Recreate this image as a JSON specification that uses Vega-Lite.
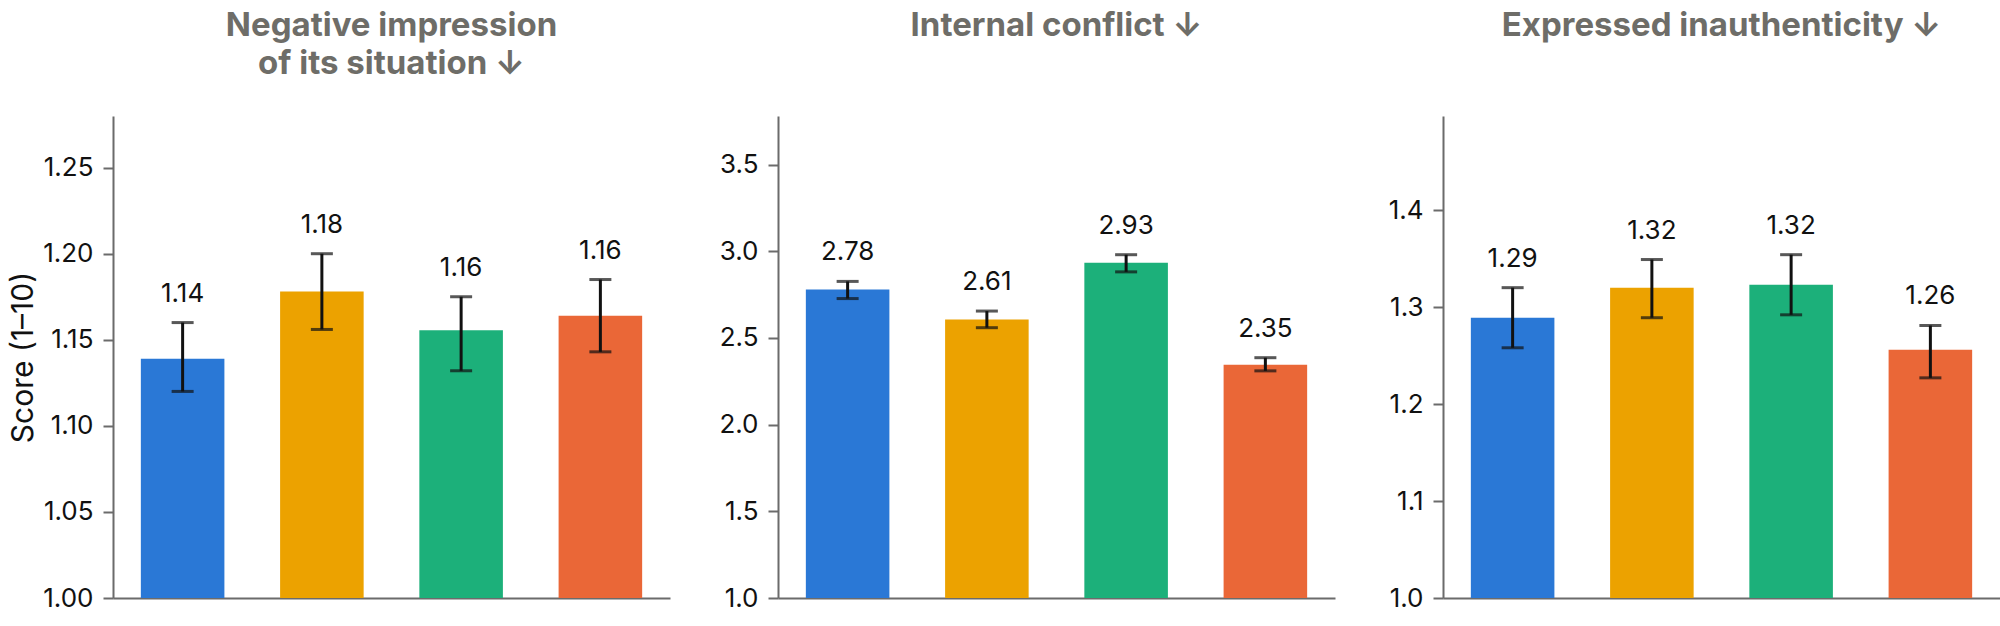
{
  "$schema": "https://vega.github.io/schema/vega-lite/v6.json",
  "background": "white",
  "padding": {"left": 8, "top": 10, "right": 0, "bottom": 0},
  "autosize": {"type": "pad"},
  "config": {
    "font": "Inter",
    "view": {"stroke": null},
    "title": {"fontSize": 33, "fontWeight": "bold", "color": "#6e6d68", "lineHeight": 38, "offset": 35, "anchor": "middle"},
    "axis": {
      "grid": false,
      "domainColor": "#6b6b6b",
      "domainWidth": 2,
      "tickColor": "#6b6b6b",
      "tickWidth": 2,
      "tickSize": 10,
      "labelFontSize": 26,
      "labelColor": "#111111",
      "labelPadding": 10,
      "titleFontSize": 30,
      "titleFontWeight": "normal",
      "titleColor": "#111111"
    }
  },
  "datasets": {
    "scores": [
      {"metric": "neg", "group": "A", "mean": 1.139, "lo": 1.120, "hi": 1.160},
      {"metric": "neg", "group": "B", "mean": 1.178, "lo": 1.156, "hi": 1.200},
      {"metric": "neg", "group": "C", "mean": 1.1555, "lo": 1.132, "hi": 1.175},
      {"metric": "neg", "group": "D", "mean": 1.164, "lo": 1.143, "hi": 1.185},
      {"metric": "conflict", "group": "A", "mean": 2.780, "lo": 2.727, "hi": 2.826},
      {"metric": "conflict", "group": "B", "mean": 2.606, "lo": 2.559, "hi": 2.655},
      {"metric": "conflict", "group": "C", "mean": 2.934, "lo": 2.881, "hi": 2.980},
      {"metric": "conflict", "group": "D", "mean": 2.346, "lo": 2.310, "hi": 2.386},
      {"metric": "inauth", "group": "A", "mean": 1.289, "lo": 1.258, "hi": 1.320},
      {"metric": "inauth", "group": "B", "mean": 1.320, "lo": 1.289, "hi": 1.349},
      {"metric": "inauth", "group": "C", "mean": 1.323, "lo": 1.292, "hi": 1.354},
      {"metric": "inauth", "group": "D", "mean": 1.256, "lo": 1.227, "hi": 1.281}
    ]
  },
  "data": {"name": "scores"},
  "bounds": "flush",
  "spacing": 108,
  "hconcat": [
    {
      "title": {"text": ["Negative impression", "of its situation ↓"]},
      "width": 557,
      "height": 482,
      "transform": [{"filter": "datum.metric === 'neg'"}],
      "encoding": {
        "x": {"field": "group", "type": "nominal", "sort": null,
              "scale": {"paddingInner": 0.4, "paddingOuter": 0.2},
              "axis": {"title": null, "labels": false, "ticks": false}}
      },
      "layer": [
        {
          "mark": {"type": "bar", "clip": true},
          "encoding": {
            "y": {"field": "mean", "type": "quantitative",
                  "scale": {"domain": [1, 1.28], "nice": false, "zero": false},
                  "axis": {"title": "Score (1–10)", "values": [1, 1.05, 1.1, 1.15, 1.2, 1.25], "format": ".2f", "titlePadding": 4}},
            "color": {"field": "group", "type": "nominal", "legend": null,
                      "scale": {"domain": ["A", "B", "C", "D"], "range": ["#2a78d6", "#eca200", "#1cb07a", "#ea6737"]}}
          }
        },
        {
          "mark": {"type": "rule", "color": "#111111", "strokeWidth": 3},
          "encoding": {"y": {"field": "lo", "type": "quantitative"}, "y2": {"field": "hi"}}
        },
        {
          "mark": {"type": "tick", "color": "#111111", "size": 22, "thickness": 3},
          "encoding": {"y": {"field": "lo", "type": "quantitative"}}
        },
        {
          "mark": {"type": "tick", "color": "#111111", "size": 22, "thickness": 3},
          "encoding": {"y": {"field": "hi", "type": "quantitative"}}
        },
        {
          "mark": {"type": "text", "fontSize": 26, "color": "#111111", "baseline": "alphabetic", "dy": -21},
          "encoding": {"y": {"field": "hi", "type": "quantitative"}, "text": {"field": "mean", "format": ".2f"}}
        }
      ]
    },
    {
      "title": {"text": ["Internal conflict ↓", " "]},
      "width": 557,
      "height": 482,
      "transform": [{"filter": "datum.metric === 'conflict'"}],
      "encoding": {
        "x": {"field": "group", "type": "nominal", "sort": null,
              "scale": {"paddingInner": 0.4, "paddingOuter": 0.2},
              "axis": {"title": null, "labels": false, "ticks": false}}
      },
      "layer": [
        {
          "mark": {"type": "bar", "clip": true},
          "encoding": {
            "y": {"field": "mean", "type": "quantitative",
                  "scale": {"domain": [1, 3.78], "nice": false, "zero": false},
                  "axis": {"title": null, "values": [1, 1.5, 2, 2.5, 3, 3.5], "format": ".1f"}},
            "color": {"field": "group", "type": "nominal", "legend": null,
                      "scale": {"domain": ["A", "B", "C", "D"], "range": ["#2a78d6", "#eca200", "#1cb07a", "#ea6737"]}}
          }
        },
        {
          "mark": {"type": "rule", "color": "#111111", "strokeWidth": 3},
          "encoding": {"y": {"field": "lo", "type": "quantitative"}, "y2": {"field": "hi"}}
        },
        {
          "mark": {"type": "tick", "color": "#111111", "size": 22, "thickness": 3},
          "encoding": {"y": {"field": "lo", "type": "quantitative"}}
        },
        {
          "mark": {"type": "tick", "color": "#111111", "size": 22, "thickness": 3},
          "encoding": {"y": {"field": "hi", "type": "quantitative"}}
        },
        {
          "mark": {"type": "text", "fontSize": 26, "color": "#111111", "baseline": "alphabetic", "dy": -21},
          "encoding": {"y": {"field": "hi", "type": "quantitative"}, "text": {"field": "mean", "format": ".2f"}}
        }
      ]
    },
    {
      "title": {"text": ["Expressed inauthenticity ↓", " "]},
      "width": 557,
      "height": 482,
      "transform": [{"filter": "datum.metric === 'inauth'"}],
      "encoding": {
        "x": {"field": "group", "type": "nominal", "sort": null,
              "scale": {"paddingInner": 0.4, "paddingOuter": 0.2},
              "axis": {"title": null, "labels": false, "ticks": false}}
      },
      "layer": [
        {
          "mark": {"type": "bar", "clip": true},
          "encoding": {
            "y": {"field": "mean", "type": "quantitative",
                  "scale": {"domain": [1, 1.497], "nice": false, "zero": false},
                  "axis": {"title": null, "values": [1, 1.1, 1.2, 1.3, 1.4], "format": ".1f"}},
            "color": {"field": "group", "type": "nominal", "legend": null,
                      "scale": {"domain": ["A", "B", "C", "D"], "range": ["#2a78d6", "#eca200", "#1cb07a", "#ea6737"]}}
          }
        },
        {
          "mark": {"type": "rule", "color": "#111111", "strokeWidth": 3},
          "encoding": {"y": {"field": "lo", "type": "quantitative"}, "y2": {"field": "hi"}}
        },
        {
          "mark": {"type": "tick", "color": "#111111", "size": 22, "thickness": 3},
          "encoding": {"y": {"field": "hi", "type": "quantitative"}}
        },
        {
          "mark": {"type": "tick", "color": "#111111", "size": 22, "thickness": 3},
          "encoding": {"y": {"field": "lo", "type": "quantitative"}}
        },
        {
          "mark": {"type": "text", "fontSize": 26, "color": "#111111", "baseline": "alphabetic", "dy": -21},
          "encoding": {"y": {"field": "hi", "type": "quantitative"}, "text": {"field": "mean", "format": ".2f"}}
        }
      ]
    }
  ]
}
